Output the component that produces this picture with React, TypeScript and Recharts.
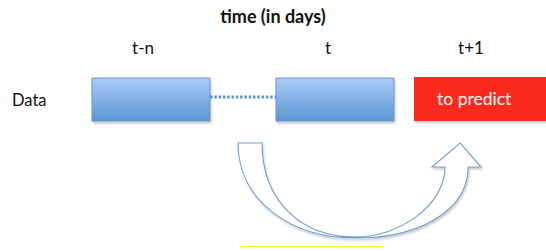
import React from "react";
import { ComposedChart, XAxis, YAxis, ReferenceArea, ReferenceLine, Label, Scatter } from "recharts";

// time axis labels and their positions on the (pixel-like) time axis
const timeLabels = ["t-n", "t", "t+1"];
const timeTicks = [143, 328, 471];

// observed data windows (start/end on time axis) and the prediction window
const dataStarts = [92, 276];
const dataEnds = [210, 394];
const predictStart = 414;
const predictEnd = 546;
const rowTop = 78;
const rowBottom = 121;
const rowCenter = 97;

const axisTitle = "time (in days)";
const rowLabel = "Data";
const predictLabel = "to predict";

// U-turn arrow extent
const arrowX = [238, 481];
const arrowY = [143, 238];
const underline = [241, 383, 246.5];

const FONT = "Lato, 'Open Sans', sans-serif";

const anchorPoints = timeTicks.map((t) => ({ t, v: rowCenter }));

const TimeTick = (props: any) => {
  const { x, payload } = props;
  const i = timeTicks.indexOf(payload.value);
  return (
    <text x={x} y={54} textAnchor="middle" fontFamily={FONT} fontSize={17} fill="#111">
      {timeLabels[i]}
    </text>
  );
};

const ArrowShape = (props: any) => {
  const { x, y, width: w, height: h } = props;
  const px = (f: number) => x + f * w;
  const py = (f: number) => y + f * h;
  const d = [
    `M${px(0)},${py(0)}`,
    `L${px(0.099)},${py(0)}`,
    `C${px(0.099)},${py(0.6)} ${px(0.255)},${py(0.99)} ${px(0.482)},${py(0.99)}`,
    `C${px(0.667)},${py(0.99)} ${px(0.852)},${py(0.65)} ${px(0.852)},${py(0.253)}`,
    `L${px(0.798)},${py(0.253)}`,
    `L${px(0.914)},${py(0)}`,
    `L${px(1)},${py(0.253)}`,
    `L${px(0.947)},${py(0.253)}`,
    `C${px(0.947)},${py(0.7)} ${px(0.753)},${py(1)} ${px(0.482)},${py(1)}`,
    `C${px(0.214)},${py(1)} ${px(0)},${py(0.6)} ${px(0)},${py(0)}`,
    "Z",
  ].join(" ");
  return (
    <path d={d} fill="#fff" stroke="#739cce" strokeWidth={1.1} filter="url(#shadow)" />
  );
};

export default function App() {
  return (
    <div style={{ position: "absolute", left: 0, top: 0, background: "#fff" }}>
      <ComposedChart width={546} height={251} margin={{ top: 0, right: 0, bottom: 0, left: 0 }}>
        <defs>
          <linearGradient id="blueGrad" x1="0" y1="0" x2="0" y2="1">
            <stop offset="0%" stopColor="#a9cbf5" />
            <stop offset="100%" stopColor="#5b96d5" />
          </linearGradient>
          <filter id="shadow" x="-10%" y="-10%" width="130%" height="140%">
            <feDropShadow dx="1" dy="2" stdDeviation="1.2" floodColor="#000" floodOpacity="0.22" />
          </filter>
        </defs>
        <XAxis
          xAxisId="t"
          dataKey="t"
          orientation="top"
          type="number"
          domain={[0, 546]}
          ticks={timeTicks}
          height={60}
          axisLine={false}
          tickLine={false}
          tick={<TimeTick />}
          allowDataOverflow
        >
          <Label
            value={axisTitle}
            position="insideTop"
            offset={10}
            style={{ fontFamily: FONT, fontSize: 18, fontWeight: 700, fill: "#111" }}
          />
        </XAxis>
        <YAxis yAxisId="v" dataKey="v" type="number" domain={[60, 251]} reversed hide allowDataOverflow />
        <Scatter
          xAxisId="t"
          yAxisId="v"
          data={anchorPoints}
          dataKey="v"
          fill="none"
          shape={() => <g />}
          isAnimationActive={false}
        />
        <ReferenceLine
          xAxisId="t"
          yAxisId="v"
          y={rowCenter + 3}
          stroke="none"
          label={{ value: rowLabel, position: "insideLeft", offset: 12, style: { fontFamily: FONT, fontSize: 16.5, fill: "#111" } }}
        />
        <ReferenceLine
          xAxisId="t"
          yAxisId="v"
          segment={[{ x: dataEnds[0], y: rowCenter }, { x: dataStarts[1], y: rowCenter }]}
          stroke="#5e91c9"
          strokeWidth={3}
          strokeDasharray="2.5 1.8"
        />
        {dataStarts.map((s, i) => (
          <ReferenceArea
            key={i}
            xAxisId="t"
            yAxisId="v"
            x1={s}
            x2={dataEnds[i]}
            y1={rowTop}
            y2={rowBottom}
            fill="url(#blueGrad)"
            fillOpacity={1}
            stroke="#6a95c8"
            strokeWidth={1}
            style={{ filter: "url(#shadow)" }}
          />
        ))}
        <ReferenceArea
          xAxisId="t"
          yAxisId="v"
          x1={predictStart}
          x2={predictEnd}
          y1={rowTop - 1}
          y2={rowBottom}
          fill="#fc291f"
          fillOpacity={1}
          stroke="none"
          style={{ filter: "url(#shadow)" }}
          label={{ value: predictLabel, position: "insideLeft", offset: 23, style: { fontFamily: FONT, fontSize: 17.5, fill: "#fff" } }}
        />
        <ReferenceArea
          xAxisId="t"
          yAxisId="v"
          x1={arrowX[0]}
          x2={arrowX[1]}
          y1={arrowY[0]}
          y2={arrowY[1]}
          shape={<ArrowShape />}
        />
        <ReferenceLine
          xAxisId="t"
          yAxisId="v"
          segment={[{ x: underline[0], y: underline[2] }, { x: underline[1], y: underline[2] }]}
          stroke="#f3ee4a"
          strokeWidth={1}
        />
      </ComposedChart>
    </div>
  );
}
